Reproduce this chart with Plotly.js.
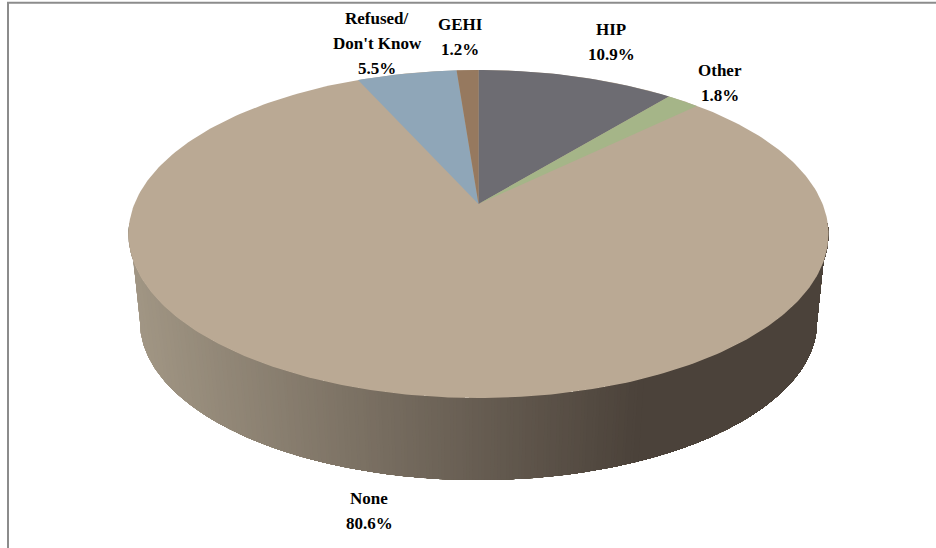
<!DOCTYPE html>
<html>
<head>
<meta charset="utf-8">
<script src="https://cdn.plot.ly/plotly-3.0.1.min.js"></script>
<style>html,body{margin:0;padding:0;background:#fff}#chart{width:936px;height:548px}</style>
</head>
<body>
<div id="chart"></div>
<script>
// Survey shares, clockwise from twelve o'clock
const categories = ["HIP", "Other", "None", "Refused/\nDon't Know", "GEHI"];
const shares = [10.9, 1.8, 80.6, 5.5, 1.2];
const sliceColors = ["#6D6C72", "#A5B588", "#BAA994", "#8FA6B8", "#96795F"];

// Perspective view of the disc, in plot units (the axes span the page in pixels)
const apex = {x: 478.5, y: 204};
const lens = {a: 344, b: 158.5, k: 0.183};
const topRim = {x: 478.5, y: 234, rx: 350, ry: 164};
const baseRim = {x: 478.5, y: 322, rx: 338.5, ry: 158};

// Projects an angle on the disc (radians clockwise from the top) onto the page
function project(theta) {
  const u = Math.sin(theta), v = Math.cos(theta), d = 1 + lens.k * v;
  return [apex.x + lens.a * u / d, apex.y - lens.b * v / d];
}

function rimPoint(rim, t) {
  return [rim.x + rim.rx * Math.cos(t), rim.y + rim.ry * Math.sin(t)];
}

function polygon(points, color) {
  return {
    type: "scatter", mode: "lines", fill: "toself", fillcolor: color,
    x: points.map(p => p[0]), y: points.map(p => p[1]),
    line: {width: 0}, hoverinfo: "skip", showlegend: false
  };
}

// Outer wall: the whole band in the lightest tone, then narrower bands laid
// over it, each one starting further right and a little darker. The upper
// edge overruns the base's widest points so the sides run straight.
function wallPoints(fromX) {
  const top = [], base = [];
  const overrun = 0.07;
  for (let i = 0; i <= 360; i++) {
    const t = -overrun + (Math.PI + 2 * overrun) * (1 - i / 360);
    const a = rimPoint(topRim, t);
    const b = rimPoint(baseRim, Math.min(Math.PI, Math.max(0, t)));
    if (b[0] >= fromX) { top.push(a); base.push(b); }
  }
  return base.concat(top.reverse());
}

function wallColor(x) {
  const light = [162, 151, 133], dark = [75, 66, 58];
  const f = Math.min(1, Math.max(0, (x - 135) / (632 - 135)));
  const c = light.map((l, i) => Math.round(l + (dark[i] - l) * f));
  return `rgb(${c[0]},${c[1]},${c[2]})`;
}

const traces = [];
for (let x = 120; x <= 636; x += 4) traces.push(polygon(wallPoints(x), wallColor(x)));

// Top face: the largest slice fills the whole ellipse, the others sit on it
const ellipse = [];
for (let i = 0; i <= 360; i++) ellipse.push(rimPoint(topRim, i * Math.PI / 180));
const total = shares.reduce((s, v) => s + v, 0);
let running = 0;
const wedges = shares.map((share, i) => {
  const start = running / total * 2 * Math.PI;
  running += share;
  const end = running / total * 2 * Math.PI;
  const steps = Math.max(6, Math.ceil((end - start) * 60));
  const pts = [[apex.x, apex.y]];
  for (let s = 0; s <= steps; s++) pts.push(project(start + (end - start) * s / steps));
  pts.push([apex.x, apex.y]);
  return {pts, color: sliceColors[i], share};
});
const largest = wedges.reduce((m, w) => (w.share > m.share ? w : m));
traces.push(polygon(ellipse, largest.color));
wedges.filter(w => w !== largest).forEach(w => traces.push(polygon(w.pts, w.color)));

// Category and share labels, one annotation per line for the wide leading
const labelAnchors = [[611, 29], [720, 70], [369, 498], [377, 18], [460, 24]];
const annotations = [];
categories.forEach((name, i) => {
  const lines = name.split("\n").concat(shares[i].toFixed(1) + "%");
  lines.forEach((line, j) => annotations.push({
    x: labelAnchors[i][0], y: labelAnchors[i][1] + j * 25,
    xref: "x", yref: "y", text: "<b>" + line + "</b>", showarrow: false,
    xanchor: "center", yanchor: "middle",
    font: {family: "'Liberation Serif', serif", size: 17, color: "#000"}
  }));
});

// Chart frame along the top and left edges
const frameShapes = [
  {type: "line", xref: "x", yref: "y", x0: 7, y0: 2.8, x1: 936, y1: 2.8, line: {color: "#8C8C8C", width: 2}},
  {type: "line", xref: "x", yref: "y", x0: 8, y0: 2, x1: 8, y1: 548, line: {color: "#8C8C8C", width: 2}}
];

const hidden = {visible: false, fixedrange: true};
Plotly.newPlot("chart", traces, {
  width: 936, height: 548,
  margin: {l: 0, r: 0, t: 0, b: 0},
  paper_bgcolor: "#fff", plot_bgcolor: "#fff",
  xaxis: Object.assign({range: [0, 936]}, hidden),
  yaxis: Object.assign({range: [548, 0]}, hidden),
  annotations, shapes: frameShapes, showlegend: false
}, {displayModeBar: false, staticPlot: true});
</script>
</body>
</html>
